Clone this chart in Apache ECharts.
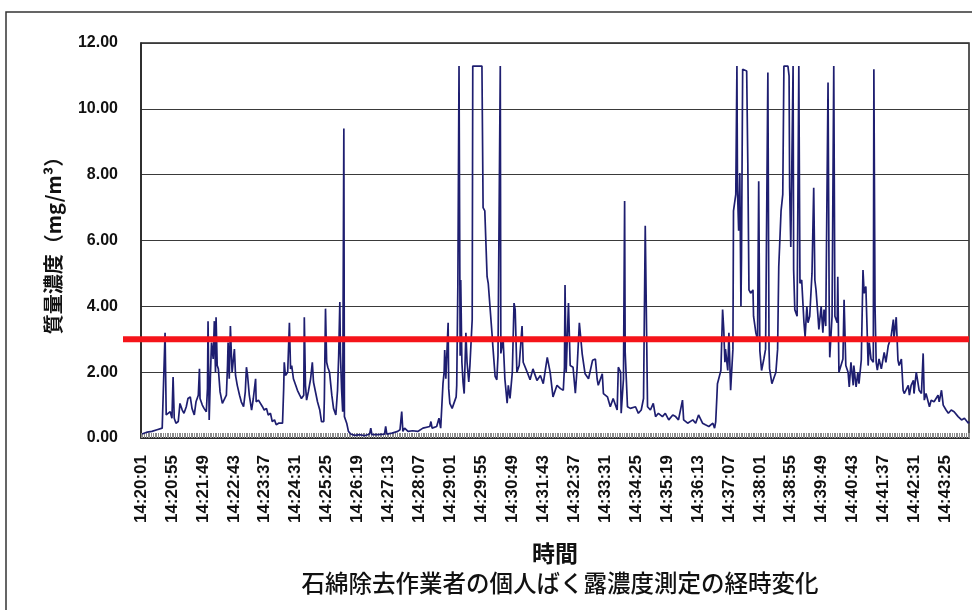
<!DOCTYPE html>
<html><head><meta charset="utf-8">
<script src="https://cdn.jsdelivr.net/npm/echarts@6/dist/echarts.min.js"></script>
<style>html,body{margin:0;padding:0;background:#fff}#c{width:972px;height:610px}</style>
</head><body><div id="c"></div>
<script>
// elapsed seconds since 14:20:01, mass concentration (mg/m3)
const samples = [
[2,0.12],[11,0.18],[19,0.2],[28,0.25],[37,0.3],[40,0.35],[42,3.2],[44,0.7],[47,0.65],[51,0.8],[54,0.6],[56,1.85],[58,0.6],[61,0.45],[65,0.5],[68,1.05],[72,0.85],[75,0.75],[79,0.95],[82,1.2],[86,1.25],[89,0.9],[93,0.7],[96,1.1],[100,1.3],[102,2.1],[103,1.2],[107,1.0],[110,0.9],[114,0.8],[116,1.5],[117,3.55],[119,0.55],[121,1.8],[123,2.9],[126,2.4],[128,3.55],[130,2.0],[131,3.67],[133,2.2],[135,2.1],[138,1.4],[142,1.05],[145,1.0],[149,1.3],[151,2.2],[152,2.9],[154,1.8],[156,3.4],[158,2.4],[159,2.0],[163,2.7],[165,1.9],[168,1.6],[172,1.3],[175,1.1],[179,0.95],[182,1.4],[184,2.15],[186,1.9],[189,1.3],[193,0.85],[196,1.2],[200,1.8],[201,1.1],[205,1.15],[208,1.1],[212,0.95],[215,0.85],[219,0.9],[222,0.7],[226,0.75],[229,0.5],[233,0.55],[236,0.4],[240,0.45],[243,0.4],[247,0.45],[249,1.5],[250,2.3],[252,1.9],[256,2.0],[259,3.5],[261,2.1],[263,2.2],[266,1.8],[270,1.6],[273,1.45],[277,1.3],[280,1.2],[284,1.3],[285,3.67],[287,1.6],[289,1.15],[292,1.4],[296,1.8],[299,2.3],[301,1.7],[305,1.36],[308,1.1],[312,0.85],[315,0.5],[319,0.5],[320,1.2],[322,3.93],[324,2.3],[326,2.15],[329,2.0],[333,1.3],[336,0.9],[340,0.7],[343,1.45],[345,2.5],[347,4.13],[348,2.6],[350,1.5],[352,0.8],[354,9.4],[355,0.65],[359,0.45],[362,0.2],[366,0.12],[373,0.08],[382,0.1],[390,0.07],[399,0.12],[401,0.3],[403,0.1],[413,0.1],[425,0.12],[427,0.35],[429,0.12],[438,0.15],[448,0.2],[452,0.25],[455,0.8],[457,0.2],[460,0.3],[466,0.2],[474,0.22],[483,0.2],[492,0.3],[495,0.25],[504,0.35],[506,0.5],[508,0.3],[516,0.35],[520,0.6],[522,0.4],[523,0.3],[527,1.65],[529,2.0],[530,2.67],[532,1.8],[536,3.5],[537,1.5],[539,1.05],[543,0.9],[546,0.85],[550,1.25],[551,1.6],[553,4.7],[555,11.3],[557,2.5],[558,4.8],[560,2.3],[562,1.7],[564,1.35],[567,3.2],[569,2.3],[572,1.7],[574,2.2],[578,3.6],[579,11.3],[595,11.3],[597,7.0],[600,6.9],[604,4.9],[606,4.7],[609,4.0],[613,3.07],[614,2.8],[618,1.87],[621,1.77],[623,2.5],[627,11.3],[628,2.57],[632,3.0],[635,1.8],[639,1.06],[641,1.6],[644,1.2],[648,2.0],[651,4.1],[653,3.9],[656,2.0],[660,2.2],[665,3.4],[667,2.3],[674,2.0],[679,1.77],[684,2.1],[691,1.75],[697,1.9],[702,1.65],[709,2.45],[714,2.0],[719,1.25],[726,1.6],[732,1.5],[737,1.45],[739,2.15],[740,4.65],[742,2.0],[746,4.1],[749,2.2],[754,2.15],[758,1.36],[761,2.1],[765,3.5],[770,2.55],[775,1.95],[781,1.8],[788,2.36],[793,2.4],[796,1.8],[798,1.6],[805,1.95],[807,1.35],[814,1.25],[819,0.95],[824,1.2],[831,0.85],[833,2.15],[837,2.0],[838,0.75],[842,1.8],[844,7.2],[845,2.6],[849,0.95],[854,0.9],[863,0.95],[868,0.75],[873,0.85],[877,1.2],[880,6.45],[884,0.95],[889,0.85],[894,1.05],[898,0.65],[903,0.75],[910,0.65],[915,0.75],[921,0.55],[928,0.7],[933,0.65],[938,0.55],[945,1.15],[947,0.55],[954,0.45],[963,0.55],[968,0.45],[973,0.7],[980,0.45],[985,0.4],[991,0.35],[998,0.45],[1001,0.3],[1003,0.5],[1005,1.25],[1006,1.65],[1008,1.6],[1012,2.05],[1015,3.9],[1017,3.3],[1019,2.3],[1020,2.7],[1024,2.05],[1026,3.2],[1029,1.45],[1033,2.7],[1034,6.9],[1038,7.4],[1040,11.3],[1041,7.5],[1043,6.3],[1045,8.05],[1047,4.0],[1048,5.5],[1050,11.2],[1057,11.15],[1059,8.35],[1061,4.5],[1064,4.4],[1068,4.5],[1069,3.7],[1073,3.2],[1076,3.0],[1078,7.8],[1080,2.65],[1083,2.05],[1087,2.4],[1090,2.7],[1094,11.1],[1096,2.7],[1097,2.1],[1101,1.65],[1104,1.7],[1108,2.0],[1111,2.7],[1113,5.2],[1117,6.9],[1120,7.4],[1122,11.3],[1129,11.3],[1131,11.0],[1132,7.6],[1134,5.8],[1138,11.3],[1139,5.1],[1141,3.9],[1145,3.7],[1148,11.3],[1150,4.7],[1153,4.8],[1157,3.5],[1159,3.07],[1162,4.0],[1164,3.5],[1167,3.7],[1171,5.0],[1174,7.6],[1176,4.8],[1178,4.5],[1181,3.8],[1183,3.3],[1187,4.0],[1190,3.2],[1192,3.9],[1195,3.4],[1199,10.8],[1201,4.0],[1202,2.45],[1206,3.7],[1209,11.3],[1211,3.7],[1215,3.5],[1216,4.9],[1218,2.0],[1225,2.4],[1227,4.2],[1230,2.2],[1234,2.0],[1236,1.55],[1239,2.3],[1243,1.6],[1244,2.2],[1248,1.55],[1251,2.0],[1253,1.65],[1257,2.37],[1260,5.1],[1262,4.4],[1265,4.6],[1269,2.2],[1271,2.9],[1274,2.4],[1278,2.3],[1279,11.2],[1281,4.0],[1283,2.3],[1285,2.06],[1288,2.4],[1292,2.1],[1297,2.6],[1300,2.3],[1304,2.8],[1309,3.07],[1313,3.6],[1314,3.0],[1318,3.67],[1321,2.37],[1323,2.2],[1327,2.4],[1330,1.45],[1332,1.35],[1339,1.6],[1341,1.3],[1344,1.6],[1348,1.75],[1349,1.35],[1353,2.0],[1356,2.0],[1358,1.45],[1362,1.35],[1365,2.57],[1367,1.15],[1370,1.35],[1376,0.95],[1379,1.15],[1384,1.1],[1391,1.3],[1393,1.1],[1397,1.45],[1400,1.0],[1405,0.85],[1409,0.75],[1414,0.85],[1419,0.8],[1426,0.65],[1432,0.55],[1437,0.6],[1444,0.45],[1445,0.5]
];
const tickLabels = ['14:20:01','14:20:55','14:21:49','14:22:43','14:23:37','14:24:31','14:25:25','14:26:19','14:27:13','14:28:07','14:29:01','14:29:55','14:30:49','14:31:43','14:32:37','14:33:31','14:34:25','14:35:19','14:36:13','14:37:07','14:38:01','14:38:55','14:39:49','14:40:43','14:41:37','14:42:31','14:43:25'];
const tickStep = 54;      // seconds between labels
const endSecond = 1445;   // last sample
const limitValue = 3.0;   // reference level (mg/m3)
const yTicks = [0, 2, 4, 6, 8, 10, 12];

const chart = echarts.init(document.getElementById('c'), null, {renderer: 'canvas'});
const plot = {left: 141, right: 3, top: 43, bottom: 172};
chart.setOption({
  animation: false,
  backgroundColor: '#fff',
  graphic: [{type: 'rect', shape: {x: 6, y: 12, width: 1000, height: 1000}, style: {fill: 'none', stroke: '#333', lineWidth: 1.5}, silent: true}],
  title: {
    text: '石綿除去作業者の個人ばく露濃度測定の経時変化',
    left: 555, top: 566, textAlign: 'center',
    textStyle: {fontFamily: 'Noto Sans CJK JP', fontSize: 23.5, fontWeight: 500, color: '#111'}
  },
  grid: [
    Object.assign({show: true, borderColor: '#222', borderWidth: 1.5, backgroundColor: 'transparent'}, plot),
    {left: 123, right: 3, top: 43, bottom: 172}
  ],
  xAxis: [{
    type: 'value', gridIndex: 0, min: 0, max: endSecond, interval: tickStep,
    name: '時間', nameLocation: 'middle', nameGap: 104,
    nameTextStyle: {fontFamily: 'Noto Sans CJK JP', fontSize: 23, fontWeight: 'bold', color: '#111'},
    axisLine: {show: true, lineStyle: {color: '#222', width: 1.5}},
    axisTick: {show: true, inside: true, length: 5, lineStyle: {color: '#8a8a8a', width: 1}},
    minorTick: {show: true, splitNumber: 18, length: 5, lineStyle: {color: '#8a8a8a', width: 1}},
    splitLine: {show: false},
    axisLabel: {
      rotate: 90, margin: 17, showMaxLabel: false, showMinLabel: true,
      fontFamily: 'Liberation Sans', fontSize: 17, fontWeight: 'bold', color: '#111',
      formatter: v => tickLabels[Math.round(v / tickStep)] || ''
    }
  }, {
    type: 'value', gridIndex: 1, min: 0, max: 1, show: false
  }],
  yAxis: [{
    type: 'value', gridIndex: 0, min: yTicks[0], max: yTicks[yTicks.length - 1], interval: 2,
    name: '質量濃度（mg/m³）', nameLocation: 'middle', nameGap: 78, nameRotate: 90,
    nameTextStyle: {fontFamily: 'Noto Sans CJK JP', fontSize: 20, fontWeight: 'bold', color: '#111'},
    axisLine: {show: true, lineStyle: {color: '#222', width: 1.5}},
    axisTick: {show: false},
    splitLine: {show: true, lineStyle: {color: '#3a3a3a', width: 1}},
    axisLabel: {margin: 23, fontFamily: 'Liberation Sans', fontSize: 16, fontWeight: 'bold', color: '#111',
      formatter: v => v.toFixed(2)}
  }, {
    type: 'value', gridIndex: 1, min: yTicks[0], max: yTicks[yTicks.length - 1], show: false
  }],
  series: [{
    type: 'line', xAxisIndex: 0, yAxisIndex: 0, data: samples,
    showSymbol: false, lineStyle: {color: '#1e1e70', width: 1.7}, z: 3
  }, {
    type: 'line', xAxisIndex: 1, yAxisIndex: 1, data: [[0, limitValue], [1, limitValue]],
    showSymbol: false, lineStyle: {color: '#f5141a', width: 6}, z: 5
  }]
});
</script></body></html>
